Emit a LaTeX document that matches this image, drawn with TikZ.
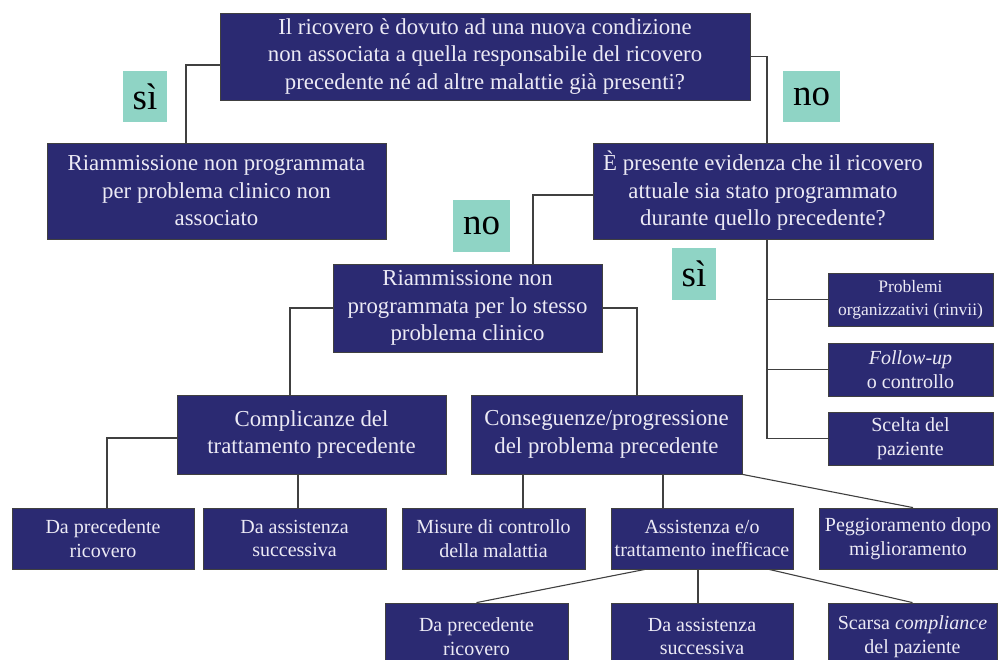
\documentclass[tikz,border=0pt]{standalone}
\usepackage{fontspec}
\setmainfont{Liberation Serif}
\definecolor{navy}{HTML}{2B2A72}
\definecolor{teal}{HTML}{8FD4C5}
\definecolor{txt}{HTML}{ECEAF5}
\definecolor{ln}{HTML}{404040}
\tikzset{
  box/.style={draw=ln, line width=0.8pt, fill=navy, text=txt, align=center, inner sep=0pt,
    font=\fontsize{22.8}{27.5}\selectfont},
  sbox/.style={box, font=\fontsize{20}{23.5}\selectfont},
  tbox/.style={box, font=\fontsize{17.5}{23}\selectfont},
  lab/.style={fill=teal, text=black, inner sep=0pt, font=\fontsize{37}{37}\selectfont},
  conn/.style={draw=ln, line width=1.1pt},
}
\begin{document}
\begin{tikzpicture}[x=1pt,y=-1pt]
\useasboundingbox (0,0) rectangle (998,660);
% main boxes
\node[box, minimum width=530pt, minimum height=87pt] (top) at (485,56.5)
  {Il ricovero è dovuto ad una nuova condizione\\non associata a quella responsabile del ricovero\\precedente né ad altre malattie già presenti?};
\node[box, minimum width=339pt, minimum height=96pt] (nsa) at (216.5,191)
  {Riammissione non programmata\\per problema clinico non\\associato};
\node[box, minimum width=340pt, minimum height=96pt] (q2) at (763,191)
  {È presente evidenza che il ricovero\\attuale sia stato programmato\\durante quello precedente?};
\node[box, minimum width=269pt, minimum height=88pt] (ss) at (467.5,308)
  {Riammissione non\\programmata per lo stesso\\problema clinico};
% right small boxes
\node[tbox, minimum width=165pt, minimum height=53pt] (prob) at (910.5,299.5)
  {Problemi\\organizzativi (rinvii)};
\node[sbox, minimum width=165pt, minimum height=53pt] (foll) at (910.5,369.5)
  {\textit{Follow-up}\\o controllo};
\node[sbox, minimum width=165pt, minimum height=53pt] (scel) at (910.5,438.5)
  {Scelta del\\paziente};
% row 2
\node[box, minimum width=269pt, minimum height=79pt] (comp) at (311.5,434.5)
  {Complicanze del\\trattamento precedente};
\node[box, minimum width=271pt, minimum height=79pt] (cons) at (606.5,434.5)
  {Conseguenze/progressione\\del problema precedente};
% row 3
\node[sbox, minimum width=182pt, minimum height=61pt] (r3a) at (103,538.5)
  {Da precedente\\ricovero};
\node[sbox, minimum width=183pt, minimum height=61pt] (r3b) at (294.5,538.5)
  {Da assistenza\\successiva};
\node[sbox, minimum width=183pt, minimum height=61pt] (r3c) at (493.5,538.5)
  {Misure di controllo\\della malattia};
\node[sbox, minimum width=182pt, minimum height=61pt] (r3d) at (702,538.5)
  {Assistenza e/o\\trattamento inefficace};
\node[sbox, minimum width=178pt, minimum height=61pt] (r3e) at (908,538.5)
  {Peggioramento dopo\\miglioramento};
% row 4
\node[sbox, minimum width=183pt, minimum height=67pt] (r4a) at (476.5,636.5)
  {Da precedente\\ricovero};
\node[sbox, minimum width=182pt, minimum height=67pt] (r4b) at (702,636.5)
  {Da assistenza\\successiva};
\node[sbox, minimum width=169pt, minimum height=67pt] (r4c) at (912.5,636.5)
  {Scarsa \textit{compliance}\\del paziente};
% labels
\node[lab, minimum width=44pt, minimum height=51pt] (l1) at (145,96.5) {sì};
\node[lab, minimum width=57pt, minimum height=51pt] (l2) at (811.5,96.5) {no};
\node[lab, minimum width=57pt, minimum height=52pt] (l3) at (481.5,226) {no};
\node[lab, minimum width=44pt, minimum height=52pt] (l4) at (694,274) {sì};
% connectors
\draw[conn] ([yshift=-8.5pt]top.west) -| ([xshift=-30.5pt]nsa.north);
\draw[conn] (top.east) -| ([xshift=4pt]q2.north);
\draw[conn] ([yshift=-4pt]q2.west) -| ([xshift=65.5pt]ss.north);
\coordinate (qb) at ([xshift=4pt]q2.south);
\draw[conn] (qb) |- (scel.west);
\draw[conn] (prob.west) -- (prob.west -| qb);
\draw[conn] (foll.west) -- (foll.west -| qb);
\draw[conn] (ss.west) -| ([xshift=-21.5pt]comp.north);
\draw[conn] (ss.east) -| ([xshift=30.5pt]cons.north);
\draw[conn] ([yshift=-3.5pt]comp.west) -| ([xshift=4pt]r3a.north);
\draw[conn] ([xshift=3.5pt]r3b.north) -- ([xshift=3.5pt]r3b.north |- comp.south);
\draw[conn] ([xshift=29.5pt]r3c.north) -- ([xshift=29.5pt]r3c.north |- cons.south);
\draw[conn] ([xshift=-39pt]r3d.north) -- ([xshift=-39pt]r3d.north |- cons.south);
\draw[conn] (cons.south east) -- ([xshift=5pt]r3e.north);
\draw[conn] ([xshift=-57pt]r3d.south) -- (r4a.north);
\draw[conn] ([xshift=-4pt]r3d.south) -- ([xshift=-4pt]r4b.north);
\draw[conn] ([xshift=67pt]r3d.south) -- (r4c.north);
\end{tikzpicture}
\end{document}
